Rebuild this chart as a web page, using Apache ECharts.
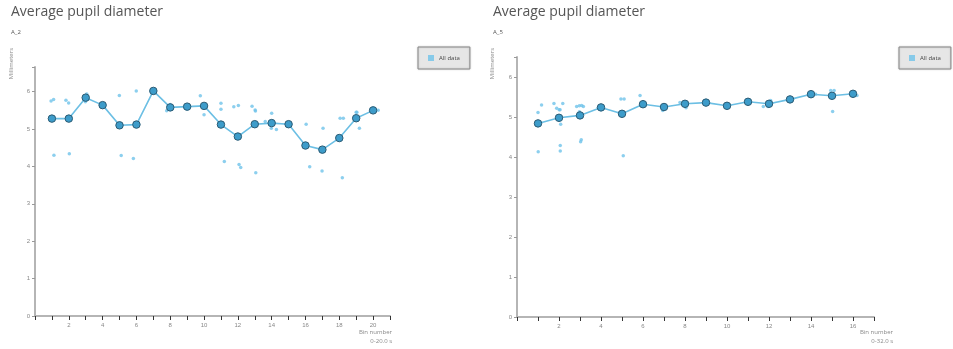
<!DOCTYPE html>
<html>
<head>
<meta charset="utf-8">
<script src="https://cdn.jsdelivr.net/npm/echarts@6/dist/echarts.min.js"></script>
<style>
  html, body { margin: 0; padding: 0; background: #fff; }
  #main { width: 953px; height: 349px; }
</style>
</head>
<body>
<div id="main"></div>
<script>
// left chart (A_2) - bin means
var binsA2 = [1, 2, 3, 4, 5, 6, 7, 8, 9, 10, 11, 12, 13, 14, 15, 16, 17, 18, 19, 20];
var meanA2 = [5.28, 5.28, 5.84, 5.64, 5.10, 5.12, 6.02, 5.58, 5.60, 5.62,
              5.12, 4.80, 5.13, 5.16, 5.13, 4.56, 4.45, 4.76, 5.29, 5.50];
// raw samples [bin (jittered), mm]
var rawA2 = [
  [0.95, 5.75], [1.1, 5.79], [1.12, 4.30],
  [1.83, 5.77], [1.99, 5.70], [2.03, 4.34],
  [3.06, 5.94], [2.98, 5.73],
  [4.99, 5.90], [5.1, 4.29],
  [5.82, 4.21], [5.99, 6.02],
  [7.79, 5.49], [8.0, 5.66],
  [9.78, 5.89], [10.0, 5.38],
  [11.0, 5.69], [11.0, 5.53], [11.2, 4.13],
  [11.76, 5.60], [12.03, 5.63], [12.07, 4.05], [12.17, 3.97],
  [12.84, 5.61], [13.02, 5.51], [13.04, 5.48], [13.06, 3.83],
  [14.0, 5.42], [13.98, 5.02], [14.28, 4.99], [13.62, 5.20],
  [16.04, 5.13], [16.25, 3.99],
  [17.04, 5.02], [16.98, 3.88],
  [18.05, 5.29], [18.24, 5.29], [18.18, 3.70],
  [19.0, 5.45], [19.04, 5.45], [19.19, 5.02],
  [20.3, 5.50]
];

// right chart (A_5)
var binsA5 = [1, 2, 3, 4, 5, 6, 7, 8, 9, 10, 11, 12, 13, 14, 15, 16];
var meanA5 = [4.84, 4.98, 5.04, 5.24, 5.08, 5.32, 5.25, 5.33,
              5.36, 5.28, 5.38, 5.33, 5.44, 5.57, 5.53, 5.58];
var rawA5 = [
  [1.17, 5.30], [1.0, 5.11], [1.01, 4.13],
  [1.76, 5.34], [1.89, 5.22], [2.01, 5.18], [2.05, 5.18], [2.18, 5.34],
  [2.08, 4.82], [2.06, 4.29], [2.06, 4.15],
  [2.84, 5.26], [2.97, 5.28], [3.08, 5.29], [3.16, 5.26], [2.97, 5.13],
  [3.06, 4.43], [3.03, 4.38],
  [3.87, 5.23], [4.05, 5.24],
  [4.95, 5.45], [5.1, 5.45], [5.06, 4.03],
  [5.86, 5.54], [5.95, 5.30],
  [6.94, 5.16],
  [7.76, 5.36], [8.05, 5.23],
  [11.73, 5.26], [11.95, 5.26], [12.08, 5.41],
  [14.22, 5.57],
  [14.94, 5.66], [15.1, 5.66], [15.03, 5.14],
  [16.19, 5.54]
];

var lineColor = "#6cbfe4";
var dotColor = "#6fc3ea";
var titleFont = "'Open Sans', 'DejaVu Sans', sans-serif";

function xAxisFor(idx, max, lastLabel) {
  return {
    gridIndex: idx,
    type: "value",
    min: 0,
    max: max,
    interval: 1,
    axisLine: { lineStyle: { color: "#b5b5b5", width: 2 } },
    axisTick: { show: true, length: 4, lineStyle: { color: "#333", width: 1 } },
    axisLabel: {
      fontSize: 6,
      color: "#888",
      margin: 6,
      formatter: function (v) {
        return v > 0 && v <= lastLabel && v % 2 === 0 ? String(v) : "";
      }
    },
    splitLine: { show: false }
  };
}

function yAxisFor(idx, max) {
  return {
    gridIndex: idx,
    type: "value",
    min: 0,
    max: max,
    interval: 1,
    axisLine: { show: true, lineStyle: { color: "#b5b5b5", width: 2 } },
    axisTick: { show: true, length: 3, lineStyle: { color: "#999" } },
    axisLabel: {
      fontSize: 6,
      color: "#888",
      margin: 5,
      formatter: function (v) {
        return Math.abs(v - Math.round(v)) < 1e-6 ? String(v) : "";
      }
    },
    splitLine: { show: false }
  };
}

function legendAt(left) {
  return {
    data: ["All data"],
    left: left, top: 47,
    width: 52,
    padding: [8, 10, 8, 10],
    backgroundColor: "#e6e6e6",
    borderColor: "#8a8a8a",
    borderWidth: 1,
    shadowColor: "rgba(0,0,0,0.2)",
    shadowBlur: 2,
    itemWidth: 6, itemHeight: 6,
    icon: "rect",
    itemGap: 4,
    selectedMode: false,
    textStyle: { fontSize: 6, color: "#444", fontFamily: titleFont }
  };
}

function smallText(right, top, text) {
  return {
    type: "text", right: right, top: top,
    style: { text: text, fontSize: 6, fill: "#888", fontFamily: titleFont }
  };
}

var chart = echarts.init(document.getElementById("main"));
chart.setOption({
  animation: false,
  title: [
    {
      text: "Average pupil diameter",
      subtext: "A_2",
      left: 6, top: 0,
      itemGap: 10,
      textStyle: { fontFamily: titleFont, fontSize: 14, fontWeight: "normal", color: "#555" },
      subtextStyle: { fontFamily: titleFont, fontSize: 6, color: "#555" }
    },
    {
      text: "Average pupil diameter",
      subtext: "A_5",
      left: 488, top: 0,
      itemGap: 10,
      textStyle: { fontFamily: titleFont, fontSize: 14, fontWeight: "normal", color: "#555" },
      subtextStyle: { fontFamily: titleFont, fontSize: 6, color: "#555" }
    }
  ],
  legend: [legendAt(418), legendAt(899)],
  grid: [
    { left: 35, top: 67, width: 355, height: 249 },
    { left: 517, top: 57, width: 357, height: 260 }
  ],
  xAxis: [xAxisFor(0, 21, 20), xAxisFor(1, 17, 16)],
  yAxis: [yAxisFor(0, 6.66), yAxisFor(1, 6.5)],
  graphic: [
    { type: "text", left: 8, top: 48, rotation: Math.PI / 2,
      style: { text: "Millimeters", fontSize: 6, fill: "#888", fontFamily: titleFont } },
    { type: "text", left: 489, top: 48, rotation: Math.PI / 2,
      style: { text: "Millimeters", fontSize: 6, fill: "#888", fontFamily: titleFont } },
    smallText(561, 329, "Bin number"),
    smallText(561, 338, "0-20.0 s"),
    smallText(60, 329, "Bin number"),
    smallText(60, 338, "0-32.0 s")
  ],
  series: [
    {
      name: "All data", type: "scatter", xAxisIndex: 0, yAxisIndex: 0,
      data: rawA2, symbolSize: 3.5, z: 2,
      itemStyle: { color: dotColor }
    },
    {
      name: "mean A_2", type: "line", xAxisIndex: 0, yAxisIndex: 0,
      data: binsA2.map(function (b, i) { return [b, meanA2[i]]; }),
      symbol: "circle", symbolSize: 7.5, z: 3,
      lineStyle: { color: lineColor, width: 1.6 },
      itemStyle: { color: "#3d9cca", borderColor: "#2a5a73", borderWidth: 1 }
    },
    {
      name: "All data", type: "scatter", xAxisIndex: 1, yAxisIndex: 1,
      data: rawA5, symbolSize: 3.5, z: 2,
      itemStyle: { color: dotColor }
    },
    {
      name: "mean A_5", type: "line", xAxisIndex: 1, yAxisIndex: 1,
      data: binsA5.map(function (b, i) { return [b, meanA5[i]]; }),
      symbol: "circle", symbolSize: 7.5, z: 3,
      lineStyle: { color: lineColor, width: 1.6 },
      itemStyle: { color: "#3d9cca", borderColor: "#2a5a73", borderWidth: 1 }
    }
  ]
});
</script>
</body>
</html>
